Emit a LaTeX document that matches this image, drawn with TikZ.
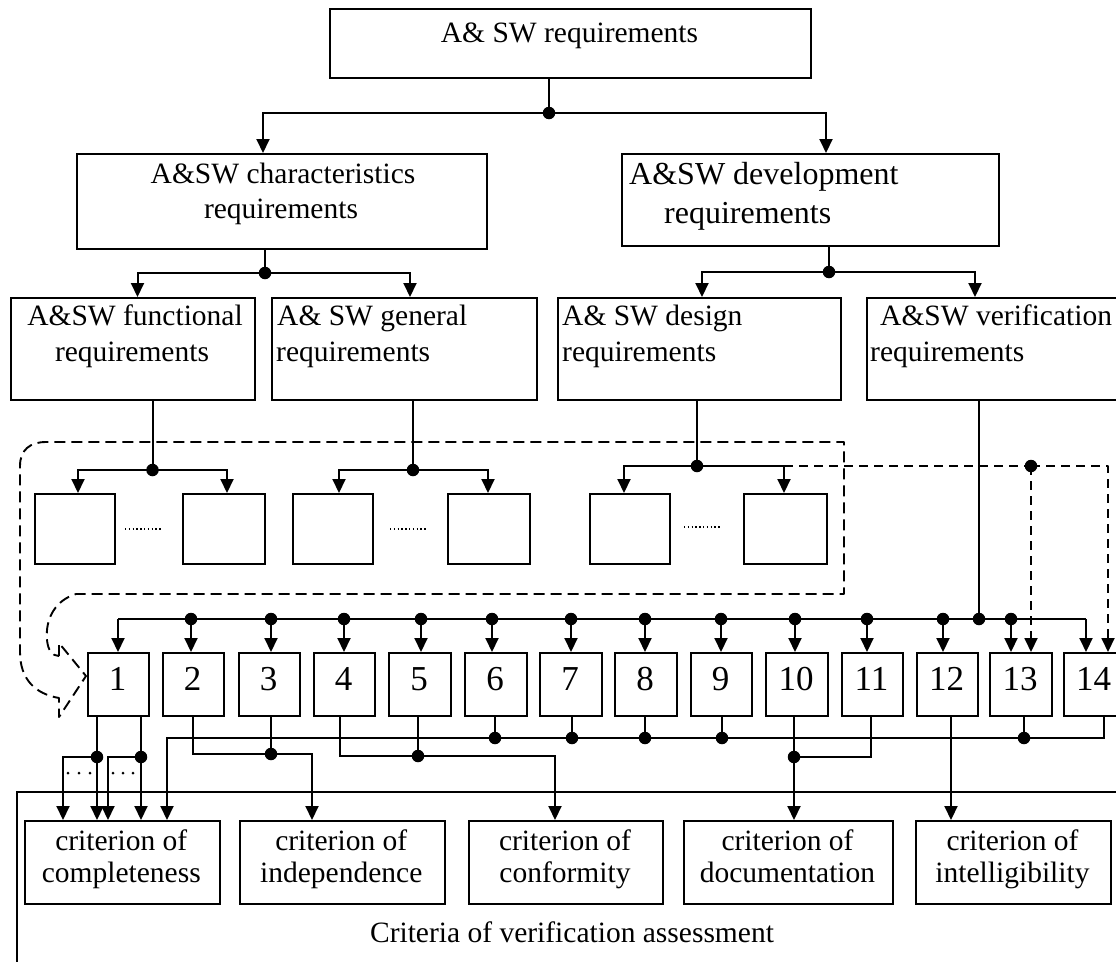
\documentclass[tikz,border=0pt]{standalone}
\usepackage{fontspec}
\setmainfont{Liberation Serif}
\usetikzlibrary{arrows.meta}

\tikzset{
  box/.style={draw, line width=2pt, rectangle, inner sep=0pt, anchor=north west},
  lbl/.style={font=\fontsize{29.5}{35}\selectfont, inner sep=0pt},
  lblbig/.style={font=\fontsize{32}{38}\selectfont, inner sep=0pt},
  num/.style={font=\fontsize{35}{40}\selectfont, inner sep=0pt, anchor=base},
  conn/.style={line width=2pt},
  arr/.style={conn, -{Triangle[length=14pt,width=13pt]}},
  jdot/.style={circle, fill, inner sep=0pt, minimum size=12.5pt},
  dsh/.style={line width=1.9pt, dash pattern=on 11pt off 6pt, line join=round},
  dotrow/.style={line width=1.6pt, dash pattern=on 1.3pt off 2.5pt},
}

\begin{document}
\begin{tikzpicture}[x=1pt,y=-1pt]
\useasboundingbox (0,0) rectangle (1116,961);
\clip (0,0) rectangle (1116,961);

% ---------- top level ----------
\node[box, minimum width=481pt, minimum height=69pt] (top) at (329,8) {};
\node[lbl, anchor=base] (topT) at (569.5,42) {A\& SW requirements};

% ---------- second level ----------
\node[box, minimum width=410pt, minimum height=95pt] (char) at (76,153) {};
\node[lbl, anchor=base] (charA) at (283,183) {A\&SW characteristics};
\node[lbl, anchor=base] (charB) at (281,218) {requirements};

\node[box, minimum width=377pt, minimum height=92pt] (dev) at (621,153) {};
\node[lblbig, anchor=base west] (devA) at (629,184) {A\&SW development};
\node[lblbig, anchor=base west] (devB) at (664,223) {requirements};

% ---------- third level ----------
\node[box, minimum width=244pt, minimum height=102pt] (func) at (10,297) {};
\node[lbl, anchor=base] (funcA) at (135,325) {A\&SW functional};
\node[lbl, anchor=base] (funcB) at (132,361) {requirements};

\node[box, minimum width=265pt, minimum height=102pt] (gen) at (271,297) {};
\node[lbl, anchor=base west] (genA) at (277,325) {A\& SW general};
\node[lbl, anchor=base west] (genB) at (276,361) {requirements};

\node[box, minimum width=283pt, minimum height=102pt] (des) at (557,297) {};
\node[lbl, anchor=base west] (desA) at (562,325) {A\& SW design};
\node[lbl, anchor=base west] (desB) at (562,361) {requirements};

\node[box, minimum width=262pt, minimum height=102pt] (ver) at (866,297) {};
\node[lbl, anchor=base west] (verA) at (880,325) {A\&SW verification};
\node[lbl, anchor=base west] (verB) at (870,361) {requirements};

% ---------- fourth level: unnamed sub-requirement boxes ----------
\node[box, minimum width=80pt, minimum height=70pt] (s1) at (34,493) {};
\node[box, minimum width=82pt, minimum height=70pt] (s2) at (182,493) {};
\node[box, minimum width=80pt, minimum height=70pt] (s3) at (292,493) {};
\node[box, minimum width=82pt, minimum height=70pt] (s4) at (447,493) {};
\node[box, minimum width=80pt, minimum height=70pt] (s5) at (589,493) {};
\node[box, minimum width=83pt, minimum height=70pt] (s6) at (743,493) {};
\draw[dotrow] ([xshift=9pt]s1.east) -- ([xshift=-20pt]s2.west);
\draw[dotrow] ([xshift=16pt]s3.east) -- ([xshift=-20pt]s4.west);
\draw[dotrow] ([xshift=13pt,yshift=2pt]s5.east) -- ([xshift=-22pt,yshift=2pt]s6.west);

% ---------- numbered verification items ----------
\foreach \i/\l/\r in {1/87/148,2/162/223,3/238/299,4/313/374,5/388/450,6/464/526,
  7/539/601,8/614/676,9/690/751,10/765/827,11/841/902,12/916/977,13/989/1051,14/1063/1124} {
  \node[box, minimum width={(\r-\l)*1pt}, minimum height=63pt] (n\i) at (\l,652) {};
  \node[num] (nt\i) at ({(\l+\r)/2},690) {\i};
}

% ---------- criteria ----------
\node[box, minimum width=1130pt, minimum height=200pt] (crit) at (16,791) {};
\node[lbl, anchor=base] (critT) at (572,942) {Criteria of verification assessment};
\foreach \nm/\l/\r/\w in {comp/24/218.5/completeness, indep/239/443.5/independence,
  conf/468/662/conformity, doc/683/892/documentation, intel/915/1110/intelligibility} {
  \node[box, minimum width={(\r-\l)*1pt}, minimum height=83pt] (\nm) at (\l,820) {};
  \node[lbl, anchor=base] (\nm-a) at ({(\l+\r)/2},850) {criterion of};
  \node[lbl, anchor=base] (\nm-b) at ({(\l+\r)/2},882) {\w};
}

% ---------- tree connectors ----------
\node[jdot] (j0) at (549,113) {};
\coordinate (j0a) at (263,113);
\coordinate (j0b) at (826,113);
\draw[conn] (top.south -| j0) -- (j0.center);
\draw[arr] (j0.center) -- (j0a) -- (j0a |- char.north);
\draw[arr] (j0.center) -- (j0b) -- (j0b |- dev.north);

\node[jdot] (j1) at (265,273) {};
\coordinate (j1a) at (137.5,273);
\coordinate (j1b) at (410,273);
\draw[conn] (char.south -| j1) -- (j1.center);
\draw[arr] (j1.center) -- (j1a) -- (j1a |- func.north);
\draw[arr] (j1.center) -- (j1b) -- (j1b |- gen.north);

\node[jdot] (j2) at (829,272) {};
\coordinate (j2a) at (702,272);
\coordinate (j2b) at (975,272);
\draw[conn] (dev.south -| j2) -- (j2.center);
\draw[arr] (j2.center) -- (j2a) -- (j2a |- des.north);
\draw[arr] (j2.center) -- (j2b) -- (j2b |- ver.north);

\node[jdot] (j3) at (152.5,470) {};
\coordinate (j3a) at (78,470);
\coordinate (j3b) at (227,470);
\draw[conn] (func.south -| j3) -- (j3.center);
\draw[arr] (j3.center) -- (j3a) -- (j3a |- s1.north);
\draw[arr] (j3.center) -- (j3b) -- (j3b |- s2.north);

\node[jdot] (j4) at (413,470) {};
\coordinate (j4a) at (339,470);
\coordinate (j4b) at (488,470);
\draw[conn] (gen.south -| j4) -- (j4.center);
\draw[arr] (j4.center) -- (j4a) -- (j4a |- s3.north);
\draw[arr] (j4.center) -- (j4b) -- (j4b |- s4.north);

\node[jdot] (j5) at (697,466) {};
\coordinate (j5a) at (624,466);
\coordinate (j5b) at (784,466);
\draw[conn] (des.south -| j5) -- (j5.center);
\draw[arr] (j5.center) -- (j5a) -- (j5a |- s5.north);
\draw[arr] (j5.center) -- (j5b) -- (j5b |- s6.north);

% dashed links from the design branch to items 13 and 14
\node[jdot] (jd) at (1031,466) {};
\coordinate (jde) at (1108,466);
\draw[dsh, dash pattern=on 9pt off 6pt] (j5b) -- (jd.center);
\draw[arr, dsh, dash pattern=on 9pt off 6pt] (jd.center) -- (jde) -- (jde |- n14.north);
\draw[arr, dsh, dash pattern=on 9pt off 6pt] (jd.center) -- (jd |- n13.north);

% dashed hollow arrow wrapping the sub-requirement boxes
\draw[dsh] (59,656) -- (59,643) -- (86,676) -- (59,717) -- (59,698)
  .. controls (36,694) and (20,680) .. (20,652) -- (20,466)
  .. controls (20,450) and (30,442) .. (46,442) -- (844,442) -- (844,594) -- (76,594)
  .. controls (56,600) and (45,618) .. (47,640)
  .. controls (48,650) and (52,656) .. (59,656);

% ---------- distribution bus to items 1..14 ----------
\node[jdot] (jv) at (979,619) {};
\draw[conn] (ver.south -| jv) -- (jv.center);
\coordinate (b1) at (118,619);
\coordinate (b14) at (1086,619);
\draw[conn] (b1) -- (b14);
\draw[arr] (b1) -- (b1 |- n1.north);
\draw[arr] (b14) -- (b14 |- n14.north);
\foreach \i/\x in {2/191,3/271,4/344,5/421,6/492,7/571,8/645,9/721,10/795,11/867,12/943,13/1011} {
  \node[jdot] (d\i) at (\x,619) {};
  \draw[arr] (d\i.center) -- (d\i |- n\i.north);
}

% ---------- links from items to criteria ----------
% item 1 -> completeness (several parallel links)
\node[jdot] (p1) at (97,757) {};
\node[jdot] (p2) at (141,757) {};
\coordinate (q1) at (63,757);
\coordinate (q2) at (108,757);
\draw[arr] (n1.south -| p1) -- (p1 |- comp.north);
\draw[arr] (n1.south -| p2) -- (p2 |- comp.north);
\draw[arr] (p1.center) -- (q1) -- (q1 |- comp.north);
\draw[arr] (p2.center) -- (q2) -- (q2 |- comp.north);
\foreach \x in {68,79,90,113,123,133} \fill (\x,773) circle (1.5pt);

% items 6,7,8,9,13,14 -> completeness
\coordinate (e0) at (167,738);
\coordinate (e14) at (1104,738);
\draw[arr] (n14.south -| e14) -- (e14) -- (e0) -- (e0 |- comp.north);
\foreach \i/\x in {6/495,7/572,8/645,9/722,13/1024} {
  \node[jdot] (f\i) at (\x,738) {};
  \draw[conn] (n\i.south -| f\i) -- (f\i.center);
}

% items 2,3 -> independence
\coordinate (g2) at (193,754);
\coordinate (g2b) at (312,754);
\node[jdot] (g3) at (271,754) {};
\draw[arr] (n2.south -| g2) -- (g2) -- (g2b) -- (g2b |- indep.north);
\draw[conn] (n3.south -| g3) -- (g3.center);

% items 4,5 -> conformity
\coordinate (h4) at (340,756);
\coordinate (h4b) at (555,756);
\node[jdot] (h5) at (418,756) {};
\draw[arr] (n4.south -| h4) -- (h4) -- (h4b) -- (h4b |- conf.north);
\draw[conn] (n5.south -| h5) -- (h5.center);

% items 10,11 -> documentation
\node[jdot] (k10) at (794,757) {};
\coordinate (k11) at (871,757);
\draw[arr] (n10.south -| k10) -- (k10 |- doc.north);
\draw[conn] (n11.south -| k11) -- (k11) -- (k10.center);

% item 12 -> intelligibility
\coordinate (m12) at (951,760);
\draw[arr] (n12.south -| m12) -- (m12 |- intel.north);

\end{tikzpicture}
\end{document}
